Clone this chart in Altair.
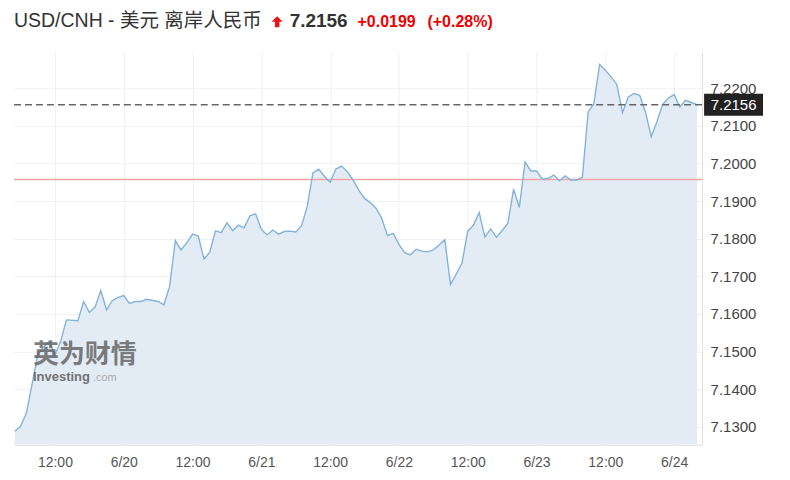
import altair as alt
import pandas as pd

# hours since 6/19 00:00
hours = [5, 6, 7, 8, 9, 10, 11, 12, 13, 14, 16, 17, 18, 19, 20, 21, 22, 23, 24, 25,
         26, 27, 28, 30, 31, 32, 33, 34, 35, 36, 37, 38, 39, 40, 41, 42, 43, 44, 45, 46,
         47, 48, 49, 50, 51, 52, 53, 54, 55, 56, 57, 58, 59, 60, 61, 62, 63, 64, 65, 66,
         67, 68, 69, 70, 71, 72, 73, 74, 75, 76, 77, 78, 79, 80, 81, 82, 83, 84, 85, 86,
         87, 88, 89, 90, 91, 92, 93, 94, 95, 96, 97, 98, 99, 100, 101, 102, 103, 104, 105, 106,
         107, 108, 109, 110, 111, 112, 113, 114, 115, 116, 117, 118, 119, 120, 121, 122, 123, 124]
prices = [7.1288, 7.1301, 7.1335, 7.1412, 7.1491, 7.1512, 7.1527, 7.1491, 7.1527, 7.1584,
          7.1582, 7.1633, 7.1604, 7.1618, 7.1662, 7.1611, 7.1635, 7.1644, 7.1649, 7.1628,
          7.1633, 7.1633, 7.1639, 7.1633, 7.1624, 7.1673, 7.1795, 7.1770, 7.1789, 7.1812,
          7.1807, 7.1746, 7.1764, 7.1821, 7.1816, 7.1842, 7.1821, 7.1836, 7.1829, 7.1861,
          7.1866, 7.1825, 7.1810, 7.1823, 7.1812, 7.1819, 7.1820, 7.1818, 7.1834, 7.1885,
          7.1975, 7.1985, 7.1966, 7.1950, 7.1985, 7.1993, 7.1978, 7.1956, 7.1929, 7.1907,
          7.1896, 7.1881, 7.1854, 7.1808, 7.1814, 7.1785, 7.1763, 7.1757, 7.1772, 7.1767,
          7.1765, 7.1770, 7.1783, 7.1797, 7.1678, 7.1706, 7.1735, 7.1820, 7.1836, 7.1869,
          7.1804, 7.1826, 7.1804, 7.1821, 7.1841, 7.1932, 7.1883, 7.2004, 7.1980, 7.1980,
          7.1958, 7.1960, 7.1969, 7.1954, 7.1967, 7.1956, 7.1956, 7.1963, 7.2137, 7.2159,
          7.2263, 7.2248, 7.2230, 7.2210, 7.2135, 7.2177, 7.2186, 7.2181, 7.2137, 7.2071,
          7.2111, 7.2157, 7.2174, 7.2183, 7.2150, 7.2168, 7.2162, 7.2156]

x_ticks = [12, 24, 36, 48, 60, 72, 84, 96, 108, 120]
y_ticks = [7.13, 7.14, 7.15, 7.16, 7.17, 7.18, 7.19, 7.20, 7.21, 7.22]

last_price = 7.2156
prev_close = 7.1957
change_text = "+0.0199"
pct_text = "(+0.28%)"
title_text = "USD/CNH - 美元 离岸人民币"

df = pd.DataFrame({"h": hours, "v": prices})

FONT = "Liberation Sans, Arial, Noto Sans CJK SC"
W, H = 689, 393
XDOM = [4.86, 124.88]
YDOM = [7.12522, 7.22956]

xs = alt.Scale(domain=XDOM, nice=False, zero=False)
ys = alt.Scale(domain=YDOM, nice=False, zero=False)

x_axis = alt.Axis(values=x_ticks, title=None, grid=True, gridColor="#eef1f5",
                  ticks=False, domainColor="#e2e2e2", labelColor="#555555",
                  labelFontSize=14, labelFont=FONT, labelPadding=11,
                  labelExpr="datum.value % 24 == 0 ? '6/' + (19 + datum.value / 24) : '12:00'")
y_axis = alt.Axis(values=y_ticks, title=None, orient="right", grid=True,
                  gridColor="#f1f1f1", ticks=False, domainColor="#e2e2e2",
                  labelColor="#444444", labelFontSize=15, labelFont=FONT,
                  labelPadding=8, format=".4f")

base = alt.Chart(df)

area = base.mark_area(color="#e3ecf4", clip=True).encode(
    x=alt.X("h:Q", scale=xs, axis=x_axis),
    y=alt.Y("v:Q", scale=ys, axis=y_axis),
)
line = base.mark_line(color="#82b3dc", strokeWidth=1.4, clip=True).encode(
    x=alt.X("h:Q", scale=xs), y=alt.Y("v:Q", scale=ys)
)

one = pd.DataFrame({"a": [0]})
c1 = alt.Chart(one)

prev_rule = c1.mark_rule(color="#f5a3a3", strokeWidth=1.5).encode(
    y=alt.datum(prev_close, scale=ys), x=alt.value(0), x2=alt.value(W)
)
last_rule = c1.mark_rule(color="#666666", strokeWidth=1.5, strokeDash=[7, 4]).encode(
    y=alt.datum(last_price, scale=ys), x=alt.value(0), x2=alt.value(W)
)
box = c1.mark_rect(color="#222222").encode(
    x=alt.value(691), x2=alt.value(750),
    y=alt.datum(last_price + 0.0029, scale=ys), y2=alt.datum(last_price - 0.0029)
)
box_text = c1.mark_text(color="white", fontSize=15, font=FONT, align="center",
                        baseline="middle").encode(
    x=alt.value(720.5), y=alt.datum(last_price, scale=ys), text=alt.value(f"{last_price:.4f}")
)

t_title = c1.mark_text(color="#333333", fontSize=19.5, font=FONT, align="left",
                       baseline="alphabetic").encode(
    x=alt.value(0), y=alt.value(-25), text=alt.value(title_text)
)
arrow = c1.mark_point(shape="M0,-1 L1,0 L0.4,0 L0.4,1 L-0.4,1 L-0.4,0 L-1,0 Z",
                      filled=True, color="#ee1111", size=125, opacity=1).encode(
    x=alt.value(263.5), y=alt.value(-30.5)
)
t_price = c1.mark_text(color="#333333", fontSize=19, fontWeight="bold", font=FONT,
                       align="left", baseline="alphabetic").encode(
    x=alt.value(276), y=alt.value(-25), text=alt.value(f"{last_price:.4f}")
)
t_chg = c1.mark_text(color="#ee0000", fontSize=16, fontWeight="bold", font=FONT,
                     align="left", baseline="alphabetic").encode(
    x=alt.value(344), y=alt.value(-25), text=alt.value(change_text)
)
t_pct = c1.mark_text(color="#ee0000", fontSize=16, fontWeight="bold", font=FONT,
                     align="left", baseline="alphabetic").encode(
    x=alt.value(414), y=alt.value(-25), text=alt.value(pct_text)
)

wm1 = c1.mark_text(color="#555555", opacity=0.75, fontSize=26, fontWeight="bold",
                   font="Noto Sans CJK SC", align="left", baseline="middle").encode(
    x=alt.value(19), y=alt.value(303), text=alt.value("英为财情")
)
wm2 = c1.mark_text(color="#555555", opacity=0.8, fontSize=13, fontWeight="bold",
                   font=FONT, align="left", baseline="middle").encode(
    x=alt.value(19), y=alt.value(325), text=alt.value("Investing")
)
wm3 = c1.mark_text(color="#999999", opacity=0.8, fontSize=11, font=FONT,
                   align="left", baseline="middle").encode(
    x=alt.value(79), y=alt.value(326), text=alt.value(".com")
)

chart = alt.layer(
    area, prev_rule, line, last_rule, wm1, wm2, wm3, box, box_text,
    t_title, arrow, t_price, t_chg, t_pct
).properties(
    width=W, height=H,
    autosize=alt.AutoSizeParams(type="none"),
    padding={"left": 6, "top": 44, "right": 80, "bottom": 27},
    background="white",
).configure_view(stroke=None)

chart.save("out.html", embed_options={"renderer": "svg", "actions": False})
